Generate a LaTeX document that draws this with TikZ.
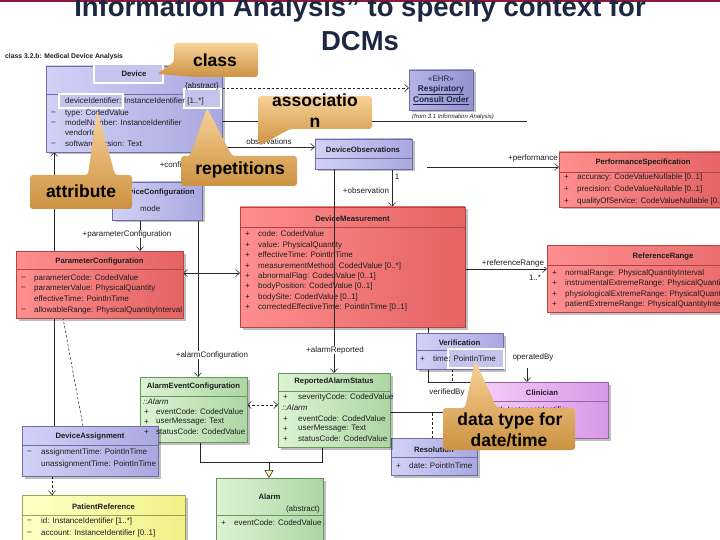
\documentclass[tikz,border=0pt]{standalone}
\usepackage{fontspec}
\setmainfont{Liberation Sans}
\usetikzlibrary{arrows.meta}
\pgfdeclarelayer{back}
\pgfsetlayers{back,main}

\definecolor{lavL}{RGB}{210,210,247}
\definecolor{lavR}{RGB}{168,168,224}
\definecolor{lavD}{RGB}{110,110,165}
\definecolor{ehrL}{RGB}{182,182,232}
\definecolor{ehrR}{RGB}{146,146,208}
\definecolor{redL}{RGB}{255,142,142}
\definecolor{redR}{RGB}{228,98,98}
\definecolor{redD}{RGB}{175,70,70}
\definecolor{grnL}{RGB}{220,243,212}
\definecolor{grnR}{RGB}{174,214,164}
\definecolor{grnD}{RGB}{105,150,95}
\definecolor{yelL}{RGB}{255,255,198}
\definecolor{yelR}{RGB}{240,240,135}
\definecolor{yelD}{RGB}{160,160,80}
\definecolor{pnkL}{RGB}{246,205,250}
\definecolor{pnkR}{RGB}{216,152,232}
\definecolor{pnkD}{RGB}{150,100,165}
\definecolor{calT}{RGB}{248,210,152}
\definecolor{calB}{RGB}{204,146,66}
\definecolor{navy}{RGB}{28,40,66}
\definecolor{maroon}{RGB}{140,25,55}
\definecolor{ink}{RGB}{30,30,30}
\definecolor{wirec}{RGB}{40,40,40}
\definecolor{hilite}{RGB}{196,196,236}

\tikzset{
  box/.style={anchor=north west,inner sep=0pt,outer sep=0pt,line width=0.6pt},
  lav/.style={box,left color=lavL,right color=lavR,draw=lavD},
  ehrc/.style={box,left color=ehrL,right color=ehrR,draw=lavD},
  red/.style={box,left color=redL,right color=redR,draw=redD},
  grn/.style={box,left color=grnL,right color=grnR,draw=grnD},
  yel/.style={box,left color=yelL,right color=yelR,draw=yelD},
  pnk/.style={box,left color=pnkL,right color=pnkR,draw=pnkD},
  txt/.style={anchor=west,inner sep=0pt,text=ink,font=\fontsize{8}{9.6}\selectfont},
  hdr/.style={anchor=center,inner sep=0pt,text=ink,font=\fontsize{7.7}{9.2}\selectfont\bfseries},
  lbl/.style={inner sep=0.6pt,fill=white,text=ink,font=\fontsize{8}{9.6}\selectfont},
  hl/.style={draw=white,line width=2.5pt,fill=hilite},
  wirel/.style={draw=wirec,line width=0.55pt},
  nav/.style={wirel,-{Straight Barb[length=4pt,width=7pt]}},
  nav2/.style={wirel,{Straight Barb[length=4pt,width=7pt]}-{Straight Barb[length=4pt,width=7pt]}},
  dep/.style={wirel,dash pattern=on 2.5pt off 2pt,-{Straight Barb[length=4pt,width=7pt]}},
  dep2/.style={wirel,dash pattern=on 2.5pt off 2pt,{Straight Barb[length=4pt,width=7pt]}-{Straight Barb[length=4pt,width=7pt]}},
  dashl/.style={wirel,dash pattern=on 2.5pt off 2pt},
  gen/.style={wirel,-{Triangle[length=8pt,width=9pt,fill=yellow!35]}},
  callout/.style={top color=calT,bottom color=calB,rounded corners=3pt},
  calltext/.style={font=\fontsize{17.5}{21}\selectfont\bfseries,text=black,inner sep=0pt,anchor=base},
  title/.style={font=\fontsize{27.5}{30}\selectfont\bfseries,text=navy,inner sep=0pt,anchor=base},
}

\newcommand\umlbox[6]{%
  \fill[black,opacity=0.25] (#3+2.5,#4+2.5) rectangle (#5+2.5,#6+2.5);
  \node[#2,minimum width={(#5)-(#3)},minimum height={(#6)-(#4)}] (#1) at (#3,#4) {};}
\newcommand\usep[4]{\draw[line width=0.5pt,#4] (#1,#3) -- (#2,#3);}
\newcommand\ut[4]{\node[txt] (#1) at (#2,#3) {#4};}
\newcommand\uh[4]{\node[hdr] (#1) at (#2,#3) {#4};}

\begin{document}
\begin{tikzpicture}[x=1pt,y=-1pt]
\useasboundingbox (0,0) rectangle (720,540);

% title
\fill[maroon] (0,0) rectangle (720,2.5);
\node[title] (ti1) at (360,17) {Information Analysis" to specify context for};
\node[title] (ti2) at (360,51) {DCMs};
\node[anchor=west,inner sep=0pt,text=ink,font=\fontsize{6.8}{8}\selectfont\bfseries] (frame) at (5,57) {class 3.2.b: Medical Device Analysis};

% class boxes
\umlbox{dev}{lav}{46}{66}{222}{152}
\umlbox{ehr}{ehrc}{409}{70}{473}{110}
\umlbox{dobs}{lav}{315}{139}{412}{169}
\umlbox{perf}{red}{559}{152}{727}{207}
\umlbox{dcfg}{lav}{112}{182}{202}{220}
\umlbox{pcfg}{red}{16}{251}{183}{318}
\umlbox{dm}{red}{240}{207}{465}{327}
\umlbox{rr}{red}{547}{245}{779}{312}
\umlbox{ver}{lav}{416}{333}{503}{369}
\umlbox{cli}{pnk}{477}{382}{608}{438}
\umlbox{res}{lav}{391}{438}{477}{475}
\umlbox{ras}{grn}{278}{373}{390}{447}
\umlbox{aec}{grn}{140}{377}{247}{442}
\umlbox{da}{lav}{22}{426}{158}{476}
\umlbox{pr}{yel}{22}{495}{185}{555}
\umlbox{al}{grn}{216}{478}{323}{555}

% separators
\usep{46}{222}{94}{lavD}
\usep{315}{412}{158}{lavD}
\usep{559}{727}{172}{redD}
\usep{16}{183}{269}{redD}
\usep{240}{465}{227}{redD}
\usep{547}{779}{265}{redD}
\usep{416}{503}{350}{lavD}
\usep{477}{608}{401}{pnkD}
\usep{391}{477}{457}{lavD}
\usep{278}{390}{391}{grnD}
\usep{140}{247}{396}{grnD}
\usep{22}{158}{445}{lavD}
\usep{22}{185}{515}{yelD}
\usep{216}{323}{515}{grnD}

% connectors (behind)
\begin{pgfonlayer}{back}
\fill[white] (0,0) rectangle (720,540);
\draw[nav] ([xshift=32pt]da.north west) -- ([xshift=8pt]dev.south west);
\draw[dashl] ([xshift=61pt]da.north west) -- ([xshift=47pt]pcfg.south west);
\draw[nav] ([xshift=149pt]dev.south west) -- ([xshift=83pt]dcfg.north west);
\draw[nav] ([xshift=28pt]dcfg.south west) -- ([xshift=124pt]pcfg.north west);
\draw[nav] ([xshift=86pt]dcfg.south west) -- ([xshift=58pt]aec.north west);
\draw[nav2] ([yshift=-22pt]pcfg.north east) -- ([yshift=-66pt]dm.north west);
\draw[dep] ([yshift=-22pt]dev.north east) -- ([yshift=-18pt]ehr.north west);
\coordinate (fromend) at (527,121);
\draw[wirel] ([yshift=-55pt]dev.north east) -- (fromend);
\draw[nav] ([yshift=-81pt]dev.north east) -- ([yshift=-8pt]dobs.north west);
\draw[nav] ([xshift=77pt]dobs.south west) -- ([xshift=152pt]dm.north west);
\coordinate (perfstart) at (427,167);
\draw[nav] (perfstart) -- ([yshift=-15pt]perf.north west);
\draw[nav] ([yshift=-62pt]dm.north east) -- ([yshift=-24pt]rr.north west);
\draw[nav] ([xshift=188pt]dm.south west) |- (cli.north west);
\draw[dashl] ([xshift=36pt]ver.south west) -- ++(0,13);
\draw[nav] ([xshift=50pt,yshift=14pt]cli.north west) -- ([xshift=50pt]cli.north west);
\draw[wirel] ([yshift=-39pt]ras.north east) -- ([yshift=-30pt]cli.north west);
\draw[dashl] ([xshift=41pt]res.north west) -- ++(0,-26);
\draw[dep2] ([yshift=-28pt]aec.north east) -- ([yshift=-32pt]ras.north west);
\draw[wirel] ([xshift=60pt]aec.south west) -- ++(0,20) -| ([xshift=44pt]ras.south west);
\draw[gen] ([xshift=53pt,yshift=16pt]al.north west) -- ([xshift=53pt]al.north west);
\draw[dep] ([xshift=30pt]da.south west) -- ([xshift=30pt]pr.north west);
\end{pgfonlayer}
\draw[nav] ([xshift=19pt]dobs.south west) -- ([xshift=56pt]ras.north west);

% Device
\draw[hl] (94,64) rectangle (163,83);
\draw[hl] (59,94) rectangle (123,108);
\draw[hl] (184,89) rectangle (221,108);
\uh{devh}{134}{74}{Device}
\node[txt,anchor=east] (devab) at (219,86) {\{abstract\}};
\ut{dev1}{65}{101}{deviceIdentifier: InstanceIdentifier [1..*]}
\ut{dev2m}{51}{113}{--}\ut{dev2}{65}{113}{type: CodedValue}
\ut{dev3m}{51}{123}{--}\ut{dev3}{65}{123}{modelNumber: InstanceIdentifier}
\ut{dev4}{65}{133}{vendorId}
\ut{dev5m}{51}{144}{--}\ut{dev5}{65}{144}{softwareVersion: Text}

% EHR
\node[inner sep=0pt,text=navy,font=\fontsize{8}{9.6}\selectfont] (ehr1) at (441,79) {«EHR»};
\node[inner sep=0pt,text=navy,font=\fontsize{8.3}{10}\selectfont\bfseries] (ehr2) at (441,90) {\underline{Respiratory}};
\node[inner sep=0pt,text=navy,font=\fontsize{8.3}{10}\selectfont\bfseries] (ehr3) at (441,101) {\underline{Consult Order}};
\node[inner sep=0pt,text=ink,font=\fontsize{6}{7}\selectfont\itshape] (ehrfrom) at (453,117) {(from 3.1 Information Analysis)};

% DeviceObservations
\uh{dobsh}{363}{150}{DeviceObservations}

% PerformanceSpecification
\uh{perfh}{643}{163}{PerformanceSpecification}
\ut{perf1m}{564}{177}{+}\ut{perf1}{577}{177}{accuracy: CodeValueNullable [0..1]}
\ut{perf2m}{564}{189}{+}\ut{perf2}{577}{189}{precision: CodeValueNullable [0..1]}
\ut{perf3m}{564}{201}{+}\ut{perf3}{577}{201}{qualityOfService: CodeValueNullable [0..1]}

% DeviceConfiguration
\uh{dcfgh}{157}{193}{DeviceConfiguration}
\ut{dcfg1}{140}{209}{mode}

% ParameterConfiguration
\uh{pcfgh}{99.5}{262}{ParameterConfiguration}
\ut{pc1m}{21}{278}{--}\ut{pc1}{34}{278}{parameterCode: CodedValue}
\ut{pc2m}{21}{288}{--}\ut{pc2}{34}{288}{parameterValue: PhysicalQuantity}
\ut{pc3}{34}{299}{effectiveTime: PointInTime}
\ut{pc4m}{21}{310}{--}\ut{pc4}{34}{310}{allowableRange: PhysicalQuantityInterval}

% DeviceMeasurement
\uh{dmh}{352.5}{219}{DeviceMeasurement}
\ut{dm1m}{245}{234}{+}\ut{dm1}{258}{234}{code: CodedValue}
\ut{dm2m}{245}{245}{+}\ut{dm2}{258}{245}{value: PhysicalQuantity}
\ut{dm3m}{245}{255}{+}\ut{dm3}{258}{255}{effectiveTime: PointInTime}
\ut{dm4m}{245}{266}{+}\ut{dm4}{258}{266}{measurementMethod: CodedValue [0..*]}
\ut{dm5m}{245}{276}{+}\ut{dm5}{258}{276}{abnormalFlag: CodedValue [0..1]}
\ut{dm6m}{245}{286}{+}\ut{dm6}{258}{286}{bodyPosition: CodedValue [0..1]}
\ut{dm7m}{245}{297}{+}\ut{dm7}{258}{297}{bodySite: CodedValue [0..1]}
\ut{dm8m}{245}{307}{+}\ut{dm8}{258}{307}{correctedEffectiveTime: PointInTime [0..1]}

% ReferenceRange
\uh{rrh}{663}{257}{ReferenceRange}
\ut{rr1m}{552}{273}{+}\ut{rr1}{565}{273}{normalRange: PhysicalQuantityInterval}
\ut{rr2m}{552}{283}{+}\ut{rr2}{565}{283}{instrumentalExtremeRange: PhysicalQuantityInterval}
\ut{rr3m}{552}{294}{+}\ut{rr3}{565}{294}{physiologicalExtremeRange: PhysicalQuantityInterval}
\ut{rr4m}{552}{304}{+}\ut{rr4}{565}{304}{patientExtremeRange: PhysicalQuantityInterval}

% Verification
\draw[hl] (448,349) rectangle (504,368);
\uh{verh}{459.5}{343}{Verification}
\ut{ver1m}{420}{359}{+}\ut{ver1}{433}{359}{time: PointInTime}

% Clinician
\uh{clih}{542}{393}{Clinician}
\ut{cli1m}{483}{410}{+}\ut{cli1}{496}{410}{id: InstanceIdentifier}

% Resolution
\uh{resh}{434}{450}{Resolution}
\ut{res1m}{396}{466}{+}\ut{res1}{409}{466}{date: PointInTime}

% ReportedAlarmStatus
\uh{rash}{334}{382}{ReportedAlarmStatus}
\ut{ras1m}{283}{397}{+}\ut{ras1}{298}{397}{severityCode: CodedValue}
\node[txt,font=\fontsize{8}{9.6}\selectfont\itshape] (ras2) at (282,408) {::Alarm};
\ut{ras3m}{283}{419}{+}\ut{ras3}{298}{419}{eventCode: CodedValue}
\ut{ras4m}{283}{429}{+}\ut{ras4}{298}{429}{userMessage: Text}
\ut{ras5m}{283}{439}{+}\ut{ras5}{298}{439}{statusCode: CodedValue}

% AlarmEventConfiguration
\uh{aech}{193.5}{387}{AlarmEventConfiguration}
\node[txt,font=\fontsize{8}{9.6}\selectfont\itshape] (aec0) at (143,402) {::Alarm};
\ut{aec1m}{144}{412}{+}\ut{aec1}{156}{412}{eventCode: CodedValue}
\ut{aec2m}{144}{422}{+}\ut{aec2}{156}{422}{userMessage: Text}
\ut{aec3m}{144}{432}{+}\ut{aec3}{156}{432}{statusCode: CodedValue}

% DeviceAssignment
\uh{dah}{90}{437}{DeviceAssignment}
\ut{da1m}{27}{452}{--}\ut{da1}{41}{452}{assignmentTime: PointInTime}
\ut{da2}{41}{464}{unassignmentTime: PointInTime}

% PatientReference
\uh{prh}{103.5}{507}{PatientReference}
\ut{pr1m}{27}{521}{--}\ut{pr1}{41}{521}{id: InstanceIdentifier [1..*]}
\ut{pr2m}{27}{533}{--}\ut{pr2}{41}{533}{account: InstanceIdentifier [0..1]}

% Alarm
\uh{alh}{269.5}{497}{Alarm}
\node[txt,anchor=east] (alab) at (320,509) {(abstract)};
\ut{al1m}{221}{523}{+}\ut{al1}{234}{523}{eventCode: CodedValue}

% connector labels
\node[lbl] (lobs) at (269,142) {observations};
\node[lbl,anchor=west] (lcfg) at (159,165) {+configuration};
\node[lbl] (lperf) at (533,158) {+performance};
\node[lbl] (lobsv) at (366,191) {+observation};
\node[lbl] (lone) at (397,177) {1};
\node[lbl] (lpc) at (127,234) {+parameterConfiguration};
\node[lbl] (lac) at (212,355) {+alarmConfiguration};
\node[lbl] (lar) at (335,350) {+alarmReported};
\node[lbl] (lrr) at (513,263) {+referenceRange};
\node[lbl,fill=none] (lrrm) at (535,278) {1..*};
\node[lbl] (lvb) at (447,392) {verifiedBy};
\node[lbl] (lob) at (533,357) {operatedBy};

% callouts
\path[callout] (216,43) -- (258,43) -- (258,77) -- (196,77) -- (157,74) -- (174,62) -- (174,43) -- cycle;
\node[calltext] (cclass) at (215,67) {class};
\path[callout] (315,96) -- (372,96) -- (372,129) -- (290,129) -- (259,146) -- (258,122) -- (258,96) -- cycle;
\node[calltext] (cas1) at (315,107) {associatio};
\node[calltext] (cas2) at (315,128) {n};
\path[callout] (240,186) -- (181,186) -- (181,156) -- (190,156) -- (207,108) -- (232,156) -- (297,156) -- (297,186) -- cycle;
\node[calltext] (crep) at (240,175) {repetitions};
\path[callout] (81,209) -- (30,209) -- (30,175) -- (88,175) -- (97,110) -- (115,175) -- (132,175) -- (132,209) -- cycle;
\node[calltext] (catt) at (81,198) {attribute};
\path[callout] (510,450) -- (443,450) -- (443,408) -- (465,408) -- (475,360) -- (497,408) -- (575,408) -- (575,450) -- cycle;
\node[calltext] (cdt1) at (510,425) {data type for};
\node[calltext] (cdt2) at (509,446) {date/time};
\end{tikzpicture}
\end{document}
